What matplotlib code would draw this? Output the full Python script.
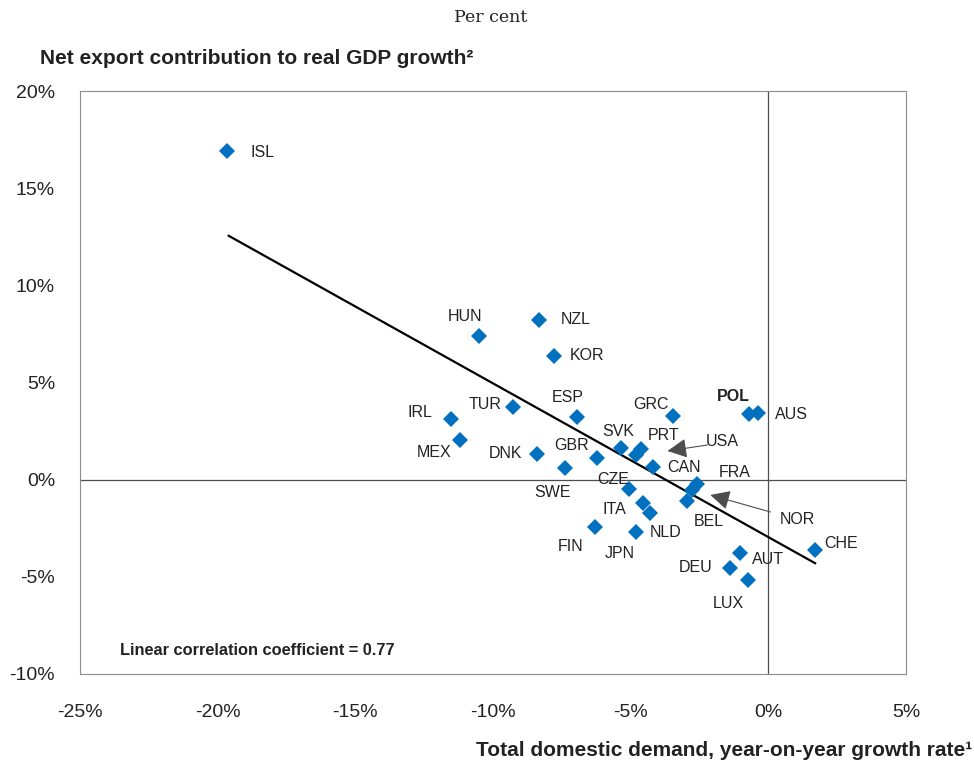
import matplotlib.pyplot as plt
from matplotlib.transforms import offset_copy

# domestic demand growth (x) and net export contribution (y), per cent
countries = ["ISL", "HUN", "NZL", "KOR", "IRL", "MEX", "TUR", "DNK", "ESP", "GBR",
             "SWE", "SVK", "PRT", "USA", "GRC", "POL", "AUS", "CAN", "FRA", "NOR",
             "BEL", "CZE", "ITA", "NLD", "JPN", "FIN", "DEU", "AUT", "LUX", "CHE"]
demand = [-19.65, -10.5, -8.32, -7.77, -11.51, -11.19, -9.26, -8.39, -6.94, -6.21,
          -7.37, -5.35, -4.61, -4.79, -3.45, -0.69, -0.36, -4.18, -2.58, -2.76,
          -2.94, -5.05, -4.54, -4.29, -4.79, -6.31, -1.38, -1.02, -0.73, 1.71]
net_exports = [16.9, 7.4, 8.2, 6.37, 3.12, 2.06, 3.74, 1.32, 3.23, 1.12,
               0.6, 1.65, 1.58, 1.27, 3.3, 3.38, 3.42, 0.65, -0.22, -0.53,
               -1.1, -0.48, -1.2, -1.72, -2.7, -2.45, -4.54, -3.77, -5.16, -3.6]

# fitted line end points
fit_x = [-19.6, 1.7]
fit_y = [12.55, -4.3]

x_ticks = [-25, -20, -15, -10, -5, 0, 5]
y_ticks = [-10, -5, 0, 5, 10, 15, 20]

# label offsets in pixels (dx, dy)
label_offsets = {
    "ISL": (35, -1), "HUN": (-14, 19), "NZL": (36, 1), "KOR": (33, 0),
    "IRL": (-31, 7), "MEX": (-26, -13), "TUR": (-28, 2), "DNK": (-32, 1),
    "ESP": (-10, 19), "GBR": (-26, 12), "SWE": (-13, -24), "SVK": (-3, 16),
    "PRT": (22, 13), "GRC": (-22, 11), "POL": (-16, 17), "AUS": (33, -1),
    "CAN": (31, 0), "FRA": (37, 11), "BEL": (21, -20), "CZE": (-16, 9),
    "ITA": (-29, -7), "NLD": (15, -19), "JPN": (-17, -21), "FIN": (-24, -19),
    "DEU": (-35, 0), "AUT": (28, -7), "LUX": (-20, -24), "CHE": (26, 6),
}
# labels attached with an arrow: tip (dx, dy), tail (dx, dy), label (dx, dy)
arrow_labels = {
    "USA": ((31, 4), (71, 10), (86, 13)),
    "NOR": ((18, -5), (78, -22), (105, -30)),
}

font = ["Liberation Sans", "DejaVu Sans"]
blue = "#0070BF"
grey = "#4D4D4D"
ink = "#222222"

fig = plt.figure(figsize=(9.74, 7.64), dpi=100)
ax = fig.add_axes([80 / 974, 1 - 674 / 764, 826 / 974, 583 / 764])

ax.axhline(0, color=grey, lw=0.9, zorder=1)
ax.axvline(0, color=grey, lw=0.9, zorder=1)
ax.plot(fit_x, fit_y, color="black", lw=1.6, zorder=2)
ax.plot(demand, net_exports, "D", color=blue, markersize=8.5, markeredgewidth=0, zorder=3)

for name, x, y in zip(countries, demand, net_exports):
    if name in label_offsets:
        dx, dy = label_offsets[name]
        ax.annotate(name, (x, y), xytext=(dx, dy), textcoords="offset pixels",
                    ha="center", va="center", fontsize=11.5, family=font, color=ink,
                    fontweight="bold" if name == "POL" else "normal")
    else:
        tip, tail, lab = arrow_labels[name]
        ax.annotate(name, (x, y), xytext=lab, textcoords="offset pixels",
                    ha="center", va="center", fontsize=11.5, family=font, color=ink)
        tip_tr = offset_copy(ax.transData, fig=fig, x=tip[0], y=tip[1], units="dots")
        ax.annotate("", xy=(x, y), xycoords=tip_tr,
                    xytext=(tail[0] - tip[0], tail[1] - tip[1]), textcoords="offset pixels",
                    arrowprops=dict(arrowstyle="-|>,head_length=0.6,head_width=0.3",
                                    color=grey, lw=0.8, mutation_scale=20,
                                    shrinkA=0, shrinkB=0))

ax.set_xlim(-25, 5)
ax.set_ylim(-10, 20)
ax.set_xticks(x_ticks)
ax.set_yticks(y_ticks)
ax.set_xticklabels([f"{t}%" for t in x_ticks], family=font, fontsize=14, color=ink)
ax.set_yticklabels([f"{t}%" for t in y_ticks], family=font, fontsize=14, color=ink)
ax.tick_params(length=0, pad=21.5, axis="x")
ax.tick_params(length=0, pad=18, axis="y")
for s in ax.spines.values():
    s.set_color("#8C8C8C")
    s.set_linewidth(0.8)

ax.text(0.048, 0.04, "Linear correlation coefficient = 0.77", transform=ax.transAxes,
        fontsize=11.8, fontweight="bold", family=font, va="center", color=ink)

fig.text(491 / 974, 1 - 18 / 764, "Per cent", ha="center", va="center",
         fontsize=12.5, family="DejaVu Serif", color=ink)
fig.text(40 / 974, 1 - 58 / 764, "Net export contribution to real GDP growth\u00b2",
         ha="left", va="center", fontsize=15, fontweight="bold", family=font, color=ink)
fig.text(972 / 974, 1 - 750 / 764, "Total domestic demand, year-on-year growth rate\u00b9",
         ha="right", va="center", fontsize=15, fontweight="bold", family=font, color=ink)

fig.savefig("out.png", dpi=100)
